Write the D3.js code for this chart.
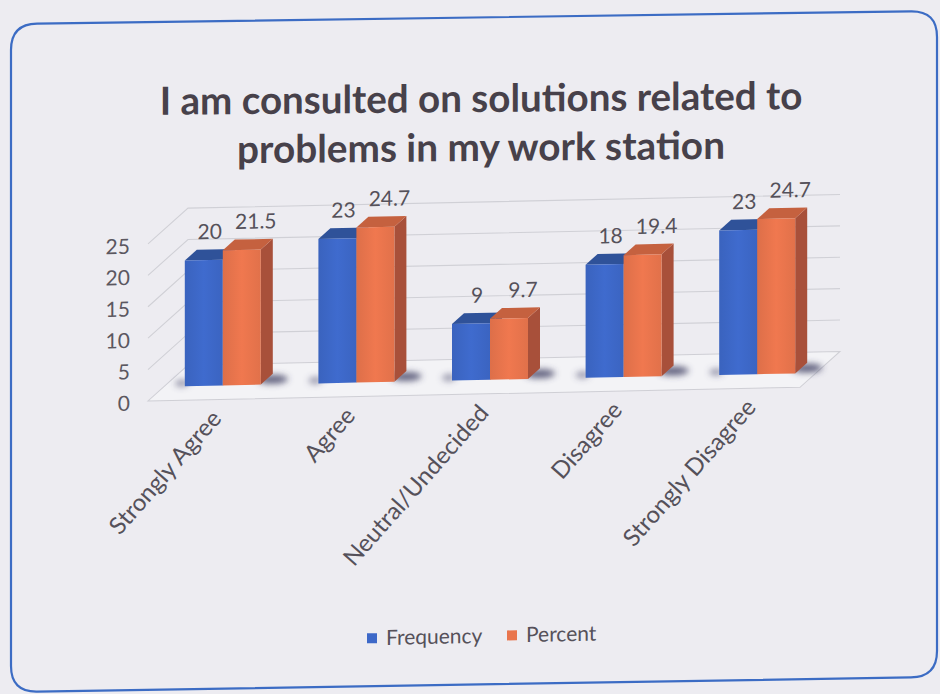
<!DOCTYPE html>
<html>
<head>
<meta charset="utf-8">
<script src="https://cdn.jsdelivr.net/npm/d3@7"></script>
<style>
  html, body { margin: 0; padding: 0; background: #edecf1; }
  svg { display: block; }
  text { font-family: Lato, "Noto Sans", sans-serif; }
</style>
</head>
<body>
<svg id="chart" width="940" height="694"></svg>
<script>
// Survey responses
const categories = ["Strongly Agree", "Agree", "Neutral/Undecided", "Disagree", "Strongly Disagree"];
const frequency = [20, 23, 9, 18, 23];
const percent = [21.5, 24.7, 9.7, 19.4, 24.7];
const seriesNames = ["Frequency", "Percent"];
const yTicks = [0, 5, 10, 15, 20, 25];
const titleLines = ["I am consulted on solutions related to", "problems in my work station"];

const series = [
  { name: seriesNames[0], values: frequency },
  { name: seriesNames[1], values: percent }
];

const colors = {
  Frequency: { front: "#3d68c8", top: "#2f5299", side: "#2c4a8c", label: 6 },
  Percent:   { front: "#e9754d", top: "#c5613f", side: "#a8503a", label: 14 }
};

const svg = d3.select("#chart");
const W = 940, H = 694;

svg.append("rect").attr("width", W).attr("height", H).attr("fill", "#edecf1");

const defs = svg.append("defs");
defs.append("filter").attr("id", "soft").attr("x", "-50%").attr("y", "-200%")
  .attr("width", "200%").attr("height", "500%")
  .append("feGaussianBlur").attr("stdDeviation", 3);

["Frequency", "Percent"].forEach(n => {
  const g = defs.append("linearGradient").attr("id", "grad-" + n)
    .attr("x1", 0).attr("x2", 1).attr("y1", 0).attr("y2", 0);
  const c = d3.color(colors[n].front);
  g.append("stop").attr("offset", 0).attr("stop-color", c.darker(0.15));
  g.append("stop").attr("offset", 0.5).attr("stop-color", c.brighter(0.08));
  g.append("stop").attr("offset", 1).attr("stop-color", c.darker(0.1));
});

// Frame with rounded corners (slightly keystoned)
const frame = { tl: [11, 24], tr: [937, 11], br: [937, 677], bl: [11, 692], r: 26 };
function roundedQuad(f) {
  const pts = [f.tl, f.tr, f.br, f.bl];
  const p = d3.path();
  const n = pts.length;
  const lerp = (a, b, d) => {
    const len = Math.hypot(b[0] - a[0], b[1] - a[1]);
    return [a[0] + (b[0] - a[0]) * d / len, a[1] + (b[1] - a[1]) * d / len];
  };
  for (let i = 0; i < n; i++) {
    const prev = pts[(i + n - 1) % n], cur = pts[i], next = pts[(i + 1) % n];
    const a = lerp(cur, prev, f.r), b = lerp(cur, next, f.r);
    if (i === 0) p.moveTo(a[0], a[1]); else p.lineTo(a[0], a[1]);
    p.quadraticCurveTo(cur[0], cur[1], b[0], b[1]);
  }
  p.closePath();
  return p.toString();
}
svg.append("path").attr("d", roundedQuad(frame))
  .attr("fill", "none").attr("stroke", "#3c6cc4").attr("stroke-width", 2.2);

// Title
const titleG = svg.append("g")
  .attr("transform", `translate(0, ${480 * Math.tan(0.5 * Math.PI / 180)}) skewY(-0.5)`);
const titleSpec = [{ y: 112, w: 643 }, { y: 161, w: 488 }];
titleLines.forEach((t, i) => {
  const el = titleG.append("text")
    .attr("x", 481).attr("y", titleSpec[i].y)
    .attr("text-anchor", "middle")
    .attr("font-size", 36).attr("font-weight", 700)
    .attr("fill", "#47414a")
    .text(t);
  const len = el.node().getComputedTextLength();
  el.attr("font-size", 36 * titleSpec[i].w / len);
});

// Chart body, sheared slightly as on the page
const skew = 1.2;
const g = svg.append("g")
  .attr("transform", `translate(0, ${480 * Math.tan(skew * Math.PI / 180)}) skewY(${-skew})`);

const y = d3.scaleLinear().domain([0, 25]).range([394, 237]);
const x0 = d3.scaleBand().domain(categories).range([140, 808]).padding(0);
const barW = 38;
const x1 = d3.scaleBand().domain(seriesNames).range([0, 2 * barW]).padding(0);

const wall = { dx: 40, dy: -35 };       // front edge to back wall
const barOff = { dx: 16, dy: -14 };     // front edge to bar front faces
const barDepth = { dx: 12, dy: -10.5 }; // bar thickness in depth

const floorL = 148, floorR = 800;

// Floor
g.append("path")
  .attr("d", `M${floorL},${y(0)} L${floorR},${y(0)} L${floorR + wall.dx},${y(0) + wall.dy} L${floorL + wall.dx},${y(0) + wall.dy} Z`)
  .attr("fill", "#f3f3f6").attr("stroke", "#cfcfd5").attr("stroke-width", 1);

// Gridlines on side wall and back wall
const grid = g.append("g").attr("stroke", "#d0d0d6").attr("stroke-width", 1.1).attr("fill", "none");
yTicks.filter(v => v > 0).forEach(v => {
  grid.append("path")
    .attr("d", `M${floorL},${y(v)} L${floorL + wall.dx},${y(v) + wall.dy} L${floorR + wall.dx},${y(v) + wall.dy}`);
});

// Axis tick labels
g.append("g").selectAll("text").data(yTicks).join("text")
  .attr("x", 130).attr("y", v => y(v) + 2)
  .attr("dy", "0.35em")
  .attr("text-anchor", "end")
  .attr("font-size", 21).attr("fill", "#5b5760")
  .text(d => d);

// Shadows on the floor
const shadowG = g.append("g").attr("filter", "url(#soft)");
categories.forEach((c, i) => {
  const left = x0(c) + x0.bandwidth() / 2 + barOff.dx - barW;
  const base = y(0) + barOff.dy;
  shadowG.append("ellipse")
    .attr("cx", left + 2 * barW + 12).attr("cy", base - 5)
    .attr("rx", 15).attr("ry", 4.5)
    .attr("fill", "#3d3f63").attr("opacity", 0.8);
  shadowG.append("ellipse")
    .attr("cx", left - 3).attr("cy", base - 3)
    .attr("rx", 7).attr("ry", 3.5)
    .attr("fill", "#4a4a70").attr("opacity", 0.55);
});

// 3D bars
const bars = g.append("g");
categories.forEach((c, i) => {
  const pairLeft = x0(c) + x0.bandwidth() / 2 + barOff.dx - barW;
  series.forEach(s => {
    const v = s.values[i];
    const xl = pairLeft + x1(s.name);
    const xr = xl + barW;
    const yt = y(v) + barOff.dy;
    const yb = y(0) + barOff.dy;
    const col = colors[s.name];
    // side face
    bars.append("path")
      .attr("d", `M${xr},${yt} L${xr + barDepth.dx},${yt + barDepth.dy} L${xr + barDepth.dx},${yb + barDepth.dy} L${xr},${yb} Z`)
      .attr("fill", col.side);
    // top face
    bars.append("path")
      .attr("d", `M${xl},${yt} L${xl + barDepth.dx},${yt + barDepth.dy} L${xr + barDepth.dx},${yt + barDepth.dy} L${xr},${yt} Z`)
      .attr("fill", col.top);
    // front face
    bars.append("rect")
      .attr("x", xl).attr("y", yt)
      .attr("width", barW).attr("height", yb - yt)
      .attr("fill", `url(#grad-${s.name})`);
  });
});

// Value labels
const labels = g.append("g");
categories.forEach((c, i) => {
  const pairLeft = x0(c) + x0.bandwidth() / 2 + barOff.dx - barW;
  series.forEach(s => {
    const v = s.values[i];
    labels.append("text")
      .attr("x", pairLeft + x1(s.name) + barW / 2 + colors[s.name].label)
      .attr("y", y(v) + barOff.dy - 21)
      .attr("text-anchor", "middle")
      .attr("font-size", 21).attr("fill", "#55515a")
      .text(v);
  });
});

// Category labels
g.append("g").selectAll("text").data(categories).join("text")
  .attr("transform", d => `translate(${x0(d) + x0.bandwidth() / 2 + 16}, ${y(0) + 20}) rotate(-48)`)
  .attr("text-anchor", "end")
  .attr("font-size", 24).attr("fill", "#55515a")
  .text(d => d);

// Legend
const legend = g.append("g");
const legendPos = [{ x: 367, name: seriesNames[0] }, { x: 507, name: seriesNames[1] }];
legendPos.forEach(l => {
  legend.append("rect").attr("x", l.x).attr("y", 631).attr("width", 10).attr("height", 10)
    .attr("fill", colors[l.name].front);
  legend.append("text").attr("x", l.x + 19).attr("y", 643)
    .attr("font-size", 21).attr("fill", "#55515a")
    .text(l.name);
});
</script>
</body>
</html>
